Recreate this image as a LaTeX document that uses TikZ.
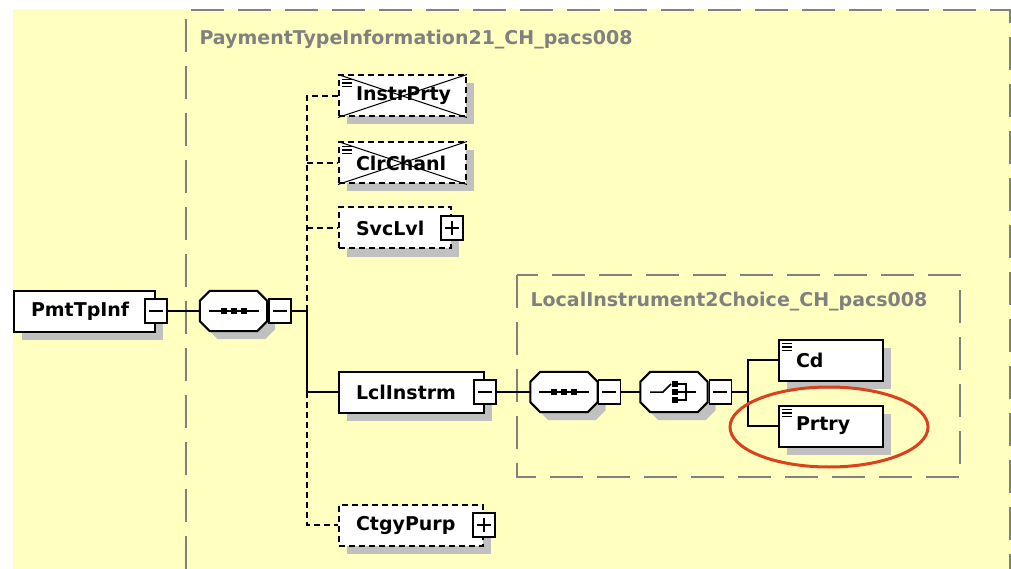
\documentclass[tikz,border=0pt]{standalone}
\usepackage{fontspec}
\setmainfont{DejaVu Sans}
\usetikzlibrary{calc,shapes.geometric,shadows}
\definecolor{bgyellow}{RGB}{255,255,192}
\definecolor{boxgray}{RGB}{128,128,128}
\definecolor{shade}{RGB}{192,192,192}
\definecolor{markred}{RGB}{218,66,30}
\newcommand\elemfont{\bfseries\fontsize{19pt}{21pt}\selectfont}
\def\octo(#1){\filldraw[comp] ($(#1.north west)+(10,0)$) -- ($(#1.north east)+(-10,0)$) -- ($(#1.north east)+(0,10)$) -- ($(#1.south east)+(0,-10)$) -- ($(#1.south east)+(-10,0)$) -- ($(#1.south west)+(10,0)$) -- ($(#1.south west)+(0,-10)$) -- ($(#1.north west)+(0,10)$) -- cycle;}
\def\seqicon(#1){\draw[line width=1.5pt] ($(#1)+(-25,0)$) -- ($(#1)+(25,0)$); \foreach \d in {-10,0,10} \fill ($(#1)+(\d-3,-3)$) rectangle ($(#1)+(\d+3,3)$);}
\def\choiceicon(#1){\draw[line width=1.5pt] ($(#1)+(-24,0)$) -- ($(#1)+(-11,0)$) -- ($(#1)+(-3,-8)$); \foreach \d in {-8,0,8} \fill ($(#1)+(-2,\d-3)$) rectangle ($(#1)+(4,\d+3)$); \draw[line width=1.5pt] ($(#1)+(3,-8)$) -- ($(#1)+(12,-8)$) -- ($(#1)+(12,8)$) -- ($(#1)+(3,8)$) ($(#1)+(3,0)$) -- ($(#1)+(22,0)$);}
\def\docicon(#1){\foreach \k in {5,8.5,12} \draw[line width=1.3pt] ($(#1.north west)+(4,\k)$) -- ++(10,0);}
\tikzset{
	elem/.style={draw, fill=white, line width=2pt, minimum height=41pt, inner xsep=17pt, inner ysep=0pt, text width=#1, align=left, anchor=west, font=\elemfont, drop shadow={shadow xshift=8pt, shadow yshift=-8pt, fill=shade, opacity=1}},
	opt/.style={elem=#1, dash pattern=on 6pt off 4pt},
	tog/.style={draw, fill=white, line width=1.5pt, minimum width=22pt, minimum height=24pt, inner sep=0pt, path picture={\draw[line width=1.5pt] ([xshift=-7pt]path picture bounding box.center) -- ([xshift=7pt]path picture bounding box.center);}},
	togplus/.style={draw, fill=white, line width=1.5pt, minimum width=22pt, minimum height=24pt, inner sep=0pt, path picture={\draw[line width=1.5pt] ([xshift=-7pt]path picture bounding box.center) -- ([xshift=7pt]path picture bounding box.center) ([yshift=-7pt]path picture bounding box.center) -- ([yshift=7pt]path picture bounding box.center);}},
	compbox/.style={minimum width=67pt, minimum height=40pt, inner sep=0pt},
	comp/.style={fill=white, draw, line width=2pt, drop shadow={shadow xshift=8pt, shadow yshift=-8pt, fill=shade, opacity=1}},
	region/.style={draw=boxgray, line width=2pt, dash pattern=on 33pt off 14pt},
	regionlabel/.style={anchor=west, text=boxgray, font=\elemfont},
	conn/.style={line width=1.8pt},
	dconn/.style={line width=1.8pt, dash pattern=on 6pt off 4pt},
	cross/.style={line width=1pt}
}
\begin{document}
\begin{tikzpicture}[x=1pt, y=-1pt]
			%%%%% START %%%%%
			\useasboundingbox (0,0) rectangle (1011,569);
			\fill[white] (0,0) rectangle (1011,569);
			\fill[bgyellow] (13,9) rectangle (1011,569);
			
			\draw[region] (186,569) -- (186,10) -- (1010,10) -- (1010,569);
			\node[regionlabel] (ptlabel) at (196,40) {PaymentTypeInformation21\_CH\_pacs008};
			\draw[region] (517,275) rectangle (960,477);
			\node[regionlabel] (lilabel) at (527,302) {LocalInstrument2Choice\_CH\_pacs008};
			
			\node[elem=107pt] (pmt) at (13,311) {PmtTpInf};
			\node[tog] (pmtm) at (pmt.east) {};
			
			\node[compbox] (s1) at (233.5,311) {};
			\octo(s1);
			\seqicon(s1);
			\node[tog, anchor=west] (s1m) at ([xshift=1pt]s1.east) {};
			
			\node[opt=93pt] (ip) at (338,96) {InstrPrty};
			\docicon(ip);
			\draw[cross] (ip.north west) -- (ip.south east) (ip.north east) -- (ip.south west);
			\node[opt=93pt] (cc) at (338,163) {ClrChanl};
			\docicon(cc);
			\draw[cross] (cc.north west) -- (cc.south east) (cc.north east) -- (cc.south west);
			\node[opt=78pt] (sv) at (338,228) {SvcLvl};
			\node[togplus] (svm) at (sv.east) {};
			\node[elem=111pt] (li) at (338,392) {LclInstrm};
			\node[tog] (lim) at (li.east) {};
			\node[opt=110pt] (cp) at (338,525) {CtgyPurp};
			\node[togplus] (cpm) at (cp.east) {};
			
			\node[compbox] (s2) at (564,392) {};
			\octo(s2);
			\seqicon(s2);
			\node[tog, anchor=west] (s2m) at ([xshift=0pt]s2.east) {};
			\node[compbox] (ch) at (674,392) {};
			\octo(ch);
			\choiceicon(ch);
			\node[tog, anchor=west] (chm) at ([xshift=1pt]ch.east) {};
			
			\node[elem=70pt] (cd) at (778,360) {Cd};
			\docicon(cd);
			\node[elem=70pt] (pr) at (778,426) {Prtry};
			\docicon(pr);
			
			\coordinate (sp) at (307,0);
			\coordinate (cj) at (748,0);
			\draw[conn] (pmtm.east) -- (s1.west);
			\draw[conn] (s1m.east) -- (s1m.east -| sp) -- (sp |- li.west) -- (li.west);
			\draw[dconn] (s1m.east -| sp) |- (ip.west);
			\draw[dconn] (sp |- cc.west) -- (cc.west);
			\draw[dconn] (sp |- sv.west) -- (sv.west);
			\draw[dconn] (sp |- li.west) |- (cp.west);
			\draw[conn] (lim.east) -- (s2.west);
			\draw[conn] (s2m.east) -- (ch.west);
			\draw[conn] (chm.east) -- (chm.east -| cj);
			\draw[conn] (cd.west) -| (cj |- pr.west) -- (pr.west);
			
			\node[draw=markred, line width=3pt, ellipse, minimum width=198pt, minimum height=80pt] (mark) at (829,427) {};
			%%%%% END %%%%%
\end{tikzpicture}
\end{document}
